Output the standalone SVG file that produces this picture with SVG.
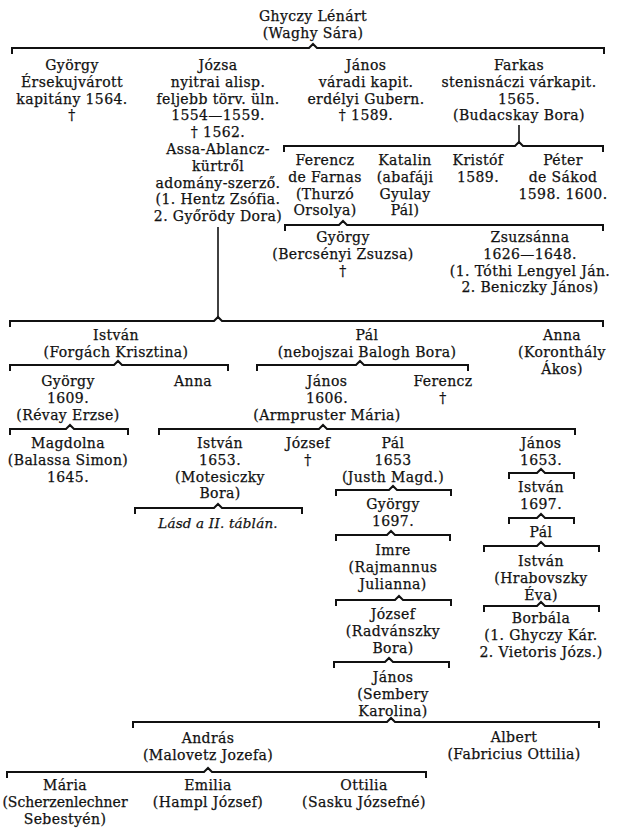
<svg xmlns="http://www.w3.org/2000/svg" width="622" height="834" viewBox="0 0 622 834">
<style>
text{font-family:"DejaVu Serif","Liberation Serif",serif;font-size:14px;letter-spacing:0.4px;fill:#111;stroke:#111;stroke-width:0.25;text-anchor:middle}
.it{font-style:italic;font-size:13.5px;letter-spacing:0.2px}
.tight{letter-spacing:0}
.br{fill:none;stroke:#111;stroke-width:2;stroke-linejoin:miter}
.vl{fill:none;stroke:#111;stroke-width:1.6}
</style>
<rect width="622" height="834" fill="#ffffff"/>
<g id="connectors">
<path class="br" d="M12 54V48H309L313 44L317 48H604V54"/>
<path class="vl" d="M519 125V142"/>
<path class="br" d="M284 152V146H515L519 142L523 146H603V152"/>
<path class="br" d="M285 231V225H339L343 221L347 225H603V231"/>
<path class="vl" d="M218 227V317"/>
<path class="br" d="M10 327V321H214L218 317L222 321H603V327"/>
<path class="br" d="M10 371V365H114L118 361L122 365H228V371"/>
<path class="br" d="M257 371V365H356L360 361L364 365H468V371"/>
<path class="br" d="M10 435V429H66L70 425L74 429H128V435"/>
<path class="br" d="M159 435V429H319L323 425L327 429H575V435"/>
<path class="br" d="M135 514V508H214L218 504L222 508H302V514"/>
<path class="br" d="M336 496V490H389L393 486L397 490H451V496"/>
<path class="br" d="M336 541V535H387L391 531L395 535H450V541"/>
<path class="br" d="M336 606V600H395L399 596L403 600H451V606"/>
<path class="br" d="M334 668V662H385L389 658L393 662H449V668"/>
<path class="br" d="M509 479V473H537L541 469L545 473H574V479"/>
<path class="br" d="M509 524V518H537L541 514L545 518H574V524"/>
<path class="br" d="M484 552V546H537L541 542L545 546H599V552"/>
<path class="br" d="M484 612V606H537L541 602L545 606H599V612"/>
<path class="br" d="M133 728V722H387L391 718L395 722H599V728"/>
<path class="br" d="M7 778V772H204L208 768L212 772H426V778"/>
</g>
<g id="n-lenart"><text x="313" y="21">Ghyczy Lénárt</text><text x="313" y="38">(Waghy Sára)</text></g>
<g id="n-gyorgy1"><text x="72" y="70">György</text><text x="72" y="86.8">Érsekujvárott</text><text x="72" y="103.6">kapitány 1564.</text><text x="72" y="120.4">†</text></g>
<g id="n-jozsa"><text x="218" y="70">Józsa</text><text x="218" y="86.8">nyitrai alisp.</text><text x="218" y="103.6">feljebb törv. üln.</text><text x="218" y="120.4">1554—1559.</text><text x="218" y="137.2">† 1562.</text><text x="218" y="154">Assa-Ablancz-</text><text x="218" y="170.8">kürtről</text><text x="218" y="187.6">adomány-szerző.</text><text x="218" y="204.4">(1. Hentz Zsófia.</text><text x="218" y="221.2">2. Győrödy Dora)</text></g>
<g id="n-janos1"><text x="366" y="70">János</text><text x="366" y="86.8">váradi kapit.</text><text x="366" y="103.6">erdélyi Gubern.</text><text x="366" y="120.4">† 1589.</text></g>
<g id="n-farkas"><text x="519" y="70">Farkas</text><text x="519" y="86.8">stenisnáczi várkapit.</text><text x="519" y="103.6">1565.</text><text x="519" y="120.4">(Budacskay Bora)</text></g>
<g id="n-ferencz1"><text x="325" y="165">Ferencz</text><text x="325" y="181.8">de Farnas</text><text x="325" y="198.6">(Thurzó</text><text x="325" y="215.4">Orsolya)</text></g>
<g id="n-katalin"><text x="405" y="165">Katalin</text><text x="405" y="181.8">(abafáji</text><text x="405" y="198.6">Gyulay</text><text x="405" y="215.4">Pál)</text></g>
<g id="n-kristof"><text x="478" y="165">Kristóf</text><text x="478" y="181.8">1589.</text></g>
<g id="n-peter"><text x="563" y="165">Péter</text><text x="563" y="181.8">de Sákod</text><text x="563" y="198.6">1598. 1600.</text></g>
<g id="n-gyorgy2"><text x="343" y="242">György</text><text x="343" y="258.8">(Bercsényi Zsuzsa)</text><text x="343" y="275.6">†</text></g>
<g id="n-zsuzsanna"><text x="530" y="242">Zsuzsánna</text><text x="530" y="258.8">1626—1648.</text><text x="530" y="275.6">(1. Tóthi Lengyel Ján.</text><text x="530" y="292.4">2. Beniczky János)</text></g>
<g id="n-istvan1"><text x="116" y="340">István</text><text x="116" y="356.8">(Forgách Krisztina)</text></g>
<g id="n-pal1"><text x="367" y="340">Pál</text><text x="367" y="356.8">(nebojszai Balogh Bora)</text></g>
<g id="n-anna1"><text x="562" y="340">Anna</text><text x="562" y="356.8">(Koronthály</text><text x="562" y="373.6">Ákos)</text></g>
<g id="n-gyorgy3"><text x="68" y="386">György</text><text x="68" y="402.8">1609.</text><text x="68" y="419.6">(Révay Erzse)</text></g>
<g id="n-anna2"><text x="193" y="386">Anna</text></g>
<g id="n-janos2"><text x="327" y="386">János</text><text x="327" y="402.8">1606.</text><text x="327" y="419.6">(Armpruster Mária)</text></g>
<g id="n-ferencz2"><text x="443" y="386">Ferencz</text><text x="443" y="402.8">†</text></g>
<g id="n-magdolna"><text x="68" y="448">Magdolna</text><text x="68" y="464.8">(Balassa Simon)</text><text x="68" y="481.6">1645.</text></g>
<g id="n-istvan2"><text x="220" y="448">István</text><text x="220" y="464.8">1653.</text><text x="220" y="481.6">(Motesiczky</text><text x="220" y="498.4">Bora)</text></g>
<g id="n-lasd"><text class="it" x="218" y="528">Lásd a II. táblán.</text></g>
<g id="n-jozsef1"><text x="308" y="448">József</text><text x="308" y="464.8">†</text></g>
<g id="n-pal2"><text x="393" y="448">Pál</text><text x="393" y="464.8">1653</text><text x="393" y="481.6">(Justh Magd.)</text></g>
<g id="n-janos3"><text x="541" y="448">János</text><text x="541" y="464.8">1653.</text></g>
<g id="n-gyorgy4"><text x="393" y="509">György</text><text x="393" y="525.8">1697.</text></g>
<g id="n-imre"><text x="393" y="555">Imre</text><text x="393" y="571.8">(Rajmannus</text><text x="393" y="588.6">Julianna)</text></g>
<g id="n-jozsef2"><text x="393" y="619">József</text><text x="393" y="635.8">(Radvánszky</text><text x="393" y="652.6">Bora)</text></g>
<g id="n-janos4"><text x="393" y="682">János</text><text x="393" y="698.8">(Sembery</text><text x="393" y="715.6">Karolina)</text></g>
<g id="n-istvan3"><text x="541" y="492">István</text><text x="541" y="508.8">1697.</text></g>
<g id="n-pal3"><text x="541" y="537">Pál</text></g>
<g id="n-istvan4"><text x="541" y="566">István</text><text x="541" y="582.8">(Hrabovszky</text><text x="541" y="599.6">Éva)</text></g>
<g id="n-borbala"><text x="541" y="623">Borbála</text><text x="541" y="639.8">(1. Ghyczy Kár.</text><text x="541" y="656.6">2. Vietoris Józs.)</text></g>
<g id="n-andras"><text x="208" y="743">András</text><text x="208" y="759.8">(Malovetz Jozefa)</text></g>
<g id="n-albert"><text x="514" y="742">Albert</text><text x="514" y="758.8">(Fabricius  Ottilia)</text></g>
<g id="n-maria"><text x="65" y="790">Mária</text><text class="tight" x="65" y="806.8">(Scherzenlechner</text><text x="65" y="823.6">Sebestyén)</text></g>
<g id="n-emilia"><text x="208" y="790">Emilia</text><text x="208" y="806.8">(Hampl József)</text></g>
<g id="n-ottilia"><text x="364" y="790">Ottilia</text><text x="364" y="806.8">(Sasku Józsefné)</text></g>
</svg>
